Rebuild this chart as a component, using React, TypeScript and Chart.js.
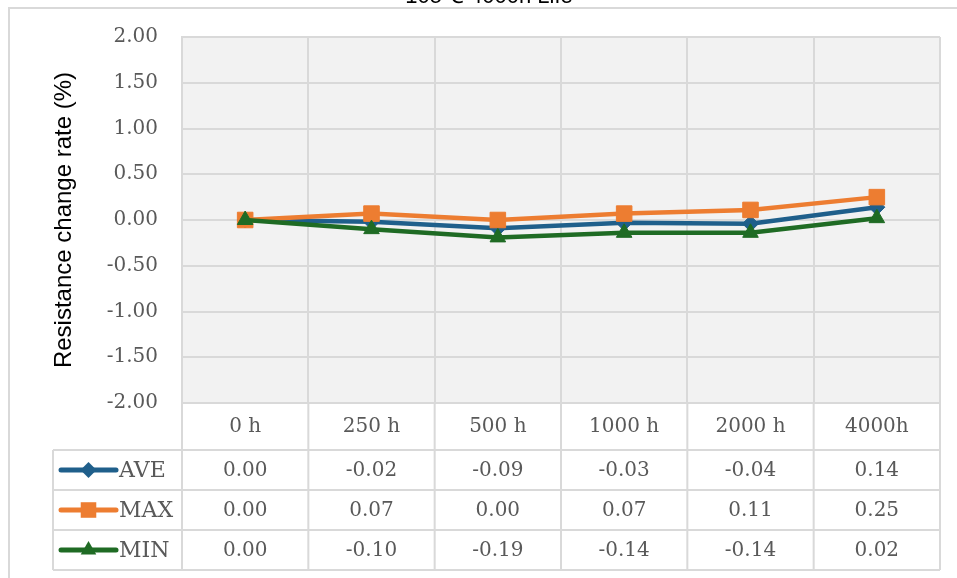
import { useEffect, useRef } from "react";
import { Chart, registerables } from "chart.js";

Chart.register(...registerables);

const categories = ["0 h", "250 h", "500 h", "1000 h", "2000 h", "4000h"];
const seriesNames = ["AVE", "MAX", "MIN"];
const aveValues = [0.0, -0.02, -0.09, -0.03, -0.04, 0.14];
const maxValues = [0.0, 0.07, 0.0, 0.07, 0.11, 0.25];
const minValues = [0.0, -0.1, -0.19, -0.14, -0.14, 0.02];
const yMin = -2.0;
const yMax = 2.0;
const yStep = 0.5;
const chartTitle = "105℃ 4000h Life";
const yAxisTitle = "Resistance change rate (%)";

const seriesColors = ["#1f5f8b", "#ed7d31", "#1f6b24"];
const seriesMarkers = ["rectRot", "rect", "triangle"];
const markerSizes = [8, 11, 9];

const GRID = "#d9d9d9";
const TEXT = "#595959";
const SERIF = "'DejaVu Serif', serif";
const SANS = "'Liberation Sans', Arial, sans-serif";

const tablePlugin = {
  id: "dataTable",
  beforeDraw(chart: any) {
    const { ctx, chartArea } = chart;
    ctx.save();
    ctx.fillStyle = "#f2f2f2";
    ctx.fillRect(chartArea.left, chartArea.top, chartArea.right - chartArea.left, chartArea.bottom - chartArea.top);
    ctx.strokeStyle = GRID;
    ctx.lineWidth = 2;
    ctx.beginPath();
    ctx.moveTo(9, 578);
    ctx.lineTo(9, 8);
    ctx.lineTo(957, 8);
    ctx.stroke();
    ctx.fillStyle = "#000";
    ctx.font = `22px ${SANS}`;
    ctx.textAlign = "center";
    ctx.textBaseline = "alphabetic";
    ctx.fillText(chartTitle, 489, 3);
    ctx.restore();
  },
  afterDraw(chart: any) {
    const { ctx, chartArea } = chart;
    const xs = chart.scales.x;
    const n = categories.length;
    const step = xs.getPixelForValue(1) - xs.getPixelForValue(0);
    const bounds: number[] = [];
    for (let i = 0; i < n; i++) bounds.push(xs.getPixelForValue(i) - step / 2);
    bounds.push(xs.getPixelForValue(n - 1) + step / 2);
    const headerBottom = xs.bottom;
    const rowH = 40;
    const legendLeft = 53;
    const tableBottom = headerBottom + rowH * seriesNames.length;

    ctx.save();
    ctx.strokeStyle = GRID;
    ctx.lineWidth = 2;
    ctx.beginPath();
    for (let r = 0; r <= seriesNames.length; r++) {
      const y = headerBottom + r * rowH;
      ctx.moveTo(legendLeft, y);
      ctx.lineTo(chartArea.right, y);
    }
    ctx.moveTo(legendLeft, headerBottom);
    ctx.lineTo(legendLeft, tableBottom);
    bounds.forEach((b) => {
      ctx.moveTo(b, chartArea.bottom);
      ctx.lineTo(b, tableBottom);
    });
    ctx.stroke();

    ctx.textBaseline = "middle";
    chart.data.datasets.forEach((ds: any, r: number) => {
      const cy = headerBottom + r * rowH + rowH / 2;
      ctx.font = `20px ${SERIF}`;
      ctx.textAlign = "center";
      ctx.fillStyle = TEXT;
      ds.data.forEach((v: number, i: number) => {
        ctx.fillText(v.toFixed(2), xs.getPixelForValue(i), cy + 1);
      });
      ctx.strokeStyle = ds.borderColor;
      ctx.lineWidth = 5;
      ctx.lineCap = "round";
      ctx.beginPath();
      ctx.moveTo(61, cy);
      ctx.lineTo(116, cy);
      ctx.stroke();
      ctx.fillStyle = ds.borderColor;
      const cx = 88.5;
      const rr = ds.pointRadius;
      ctx.beginPath();
      if (ds.pointStyle === "rect") {
        const s = rr * Math.SQRT1_2;
        ctx.rect(cx - s, cy - s, 2 * s, 2 * s);
      } else if (ds.pointStyle === "rectRot") {
        ctx.moveTo(cx, cy - rr);
        ctx.lineTo(cx + rr, cy);
        ctx.lineTo(cx, cy + rr);
        ctx.lineTo(cx - rr, cy);
        ctx.closePath();
      } else {
        ctx.moveTo(cx, cy - rr);
        ctx.lineTo(cx + rr * 0.866, cy + rr * 0.5);
        ctx.lineTo(cx - rr * 0.866, cy + rr * 0.5);
        ctx.closePath();
      }
      ctx.fill();
      ctx.fillStyle = TEXT;
      ctx.textAlign = "left";
      ctx.font = `22px ${SERIF}`;
      ctx.fillText(ds.label, 119, cy + 1);
    });
    ctx.restore();
  },
};

export default function App() {
  const ref = useRef<HTMLCanvasElement>(null);

  useEffect(() => {
    if (!ref.current) return;
    const seriesValues = [aveValues, maxValues, minValues];
    const chart = new Chart(ref.current, {
      type: "line",
      data: {
        labels: categories,
        datasets: seriesNames.map((name, i) => ({
          label: name,
          data: seriesValues[i],
          borderColor: seriesColors[i],
          backgroundColor: seriesColors[i],
          pointBackgroundColor: seriesColors[i],
          pointBorderColor: seriesColors[i],
          pointBorderWidth: 1,
          pointStyle: seriesMarkers[i] as any,
          pointRadius: markerSizes[i],
          pointHoverRadius: markerSizes[i],
          borderWidth: 4.5,
          tension: 0,
          order: seriesNames.length - 1 - i,
        })),
      },
      options: {
        responsive: false,
        animation: false,
        layout: { padding: { left: 0, top: 37, right: 17, bottom: 128 } },
        plugins: {
          legend: { display: false },
          tooltip: { enabled: false },
          title: { display: false },
        },
        scales: {
          x: {
            type: "category",
            offset: true,
            grid: { color: GRID, lineWidth: 2, drawTicks: false, offset: true },
            border: { color: GRID, width: 2 },
            ticks: {
              color: TEXT,
              font: { family: SERIF, size: 20 },
              padding: 12,
              maxRotation: 0,
              autoSkip: false,
            },
            afterFit: (s: any) => {
              s.height = 47;
            },
          },
          y: {
            min: yMin,
            max: yMax,
            grid: { color: GRID, lineWidth: 2, drawTicks: false },
            border: { color: GRID, width: 2 },
            ticks: {
              stepSize: yStep,
              color: TEXT,
              font: { family: SERIF, size: 20 },
              padding: 24,
              callback: (v: any) => Number(v).toFixed(2),
            },
            title: {
              display: true,
              text: yAxisTitle,
              color: "#000",
              font: { family: SANS, size: 24 },
              padding: { top: 50, bottom: 0 },
            },
            afterFit: (s: any) => {
              s.width = 182;
            },
          },
        },
      },
      plugins: [tablePlugin],
    });
    return () => chart.destroy();
  }, []);

  return (
    <canvas
      ref={ref}
      width={957}
      height={578}
      style={{ position: "absolute", left: 0, top: 0, display: "block" }}
    />
  );
}
